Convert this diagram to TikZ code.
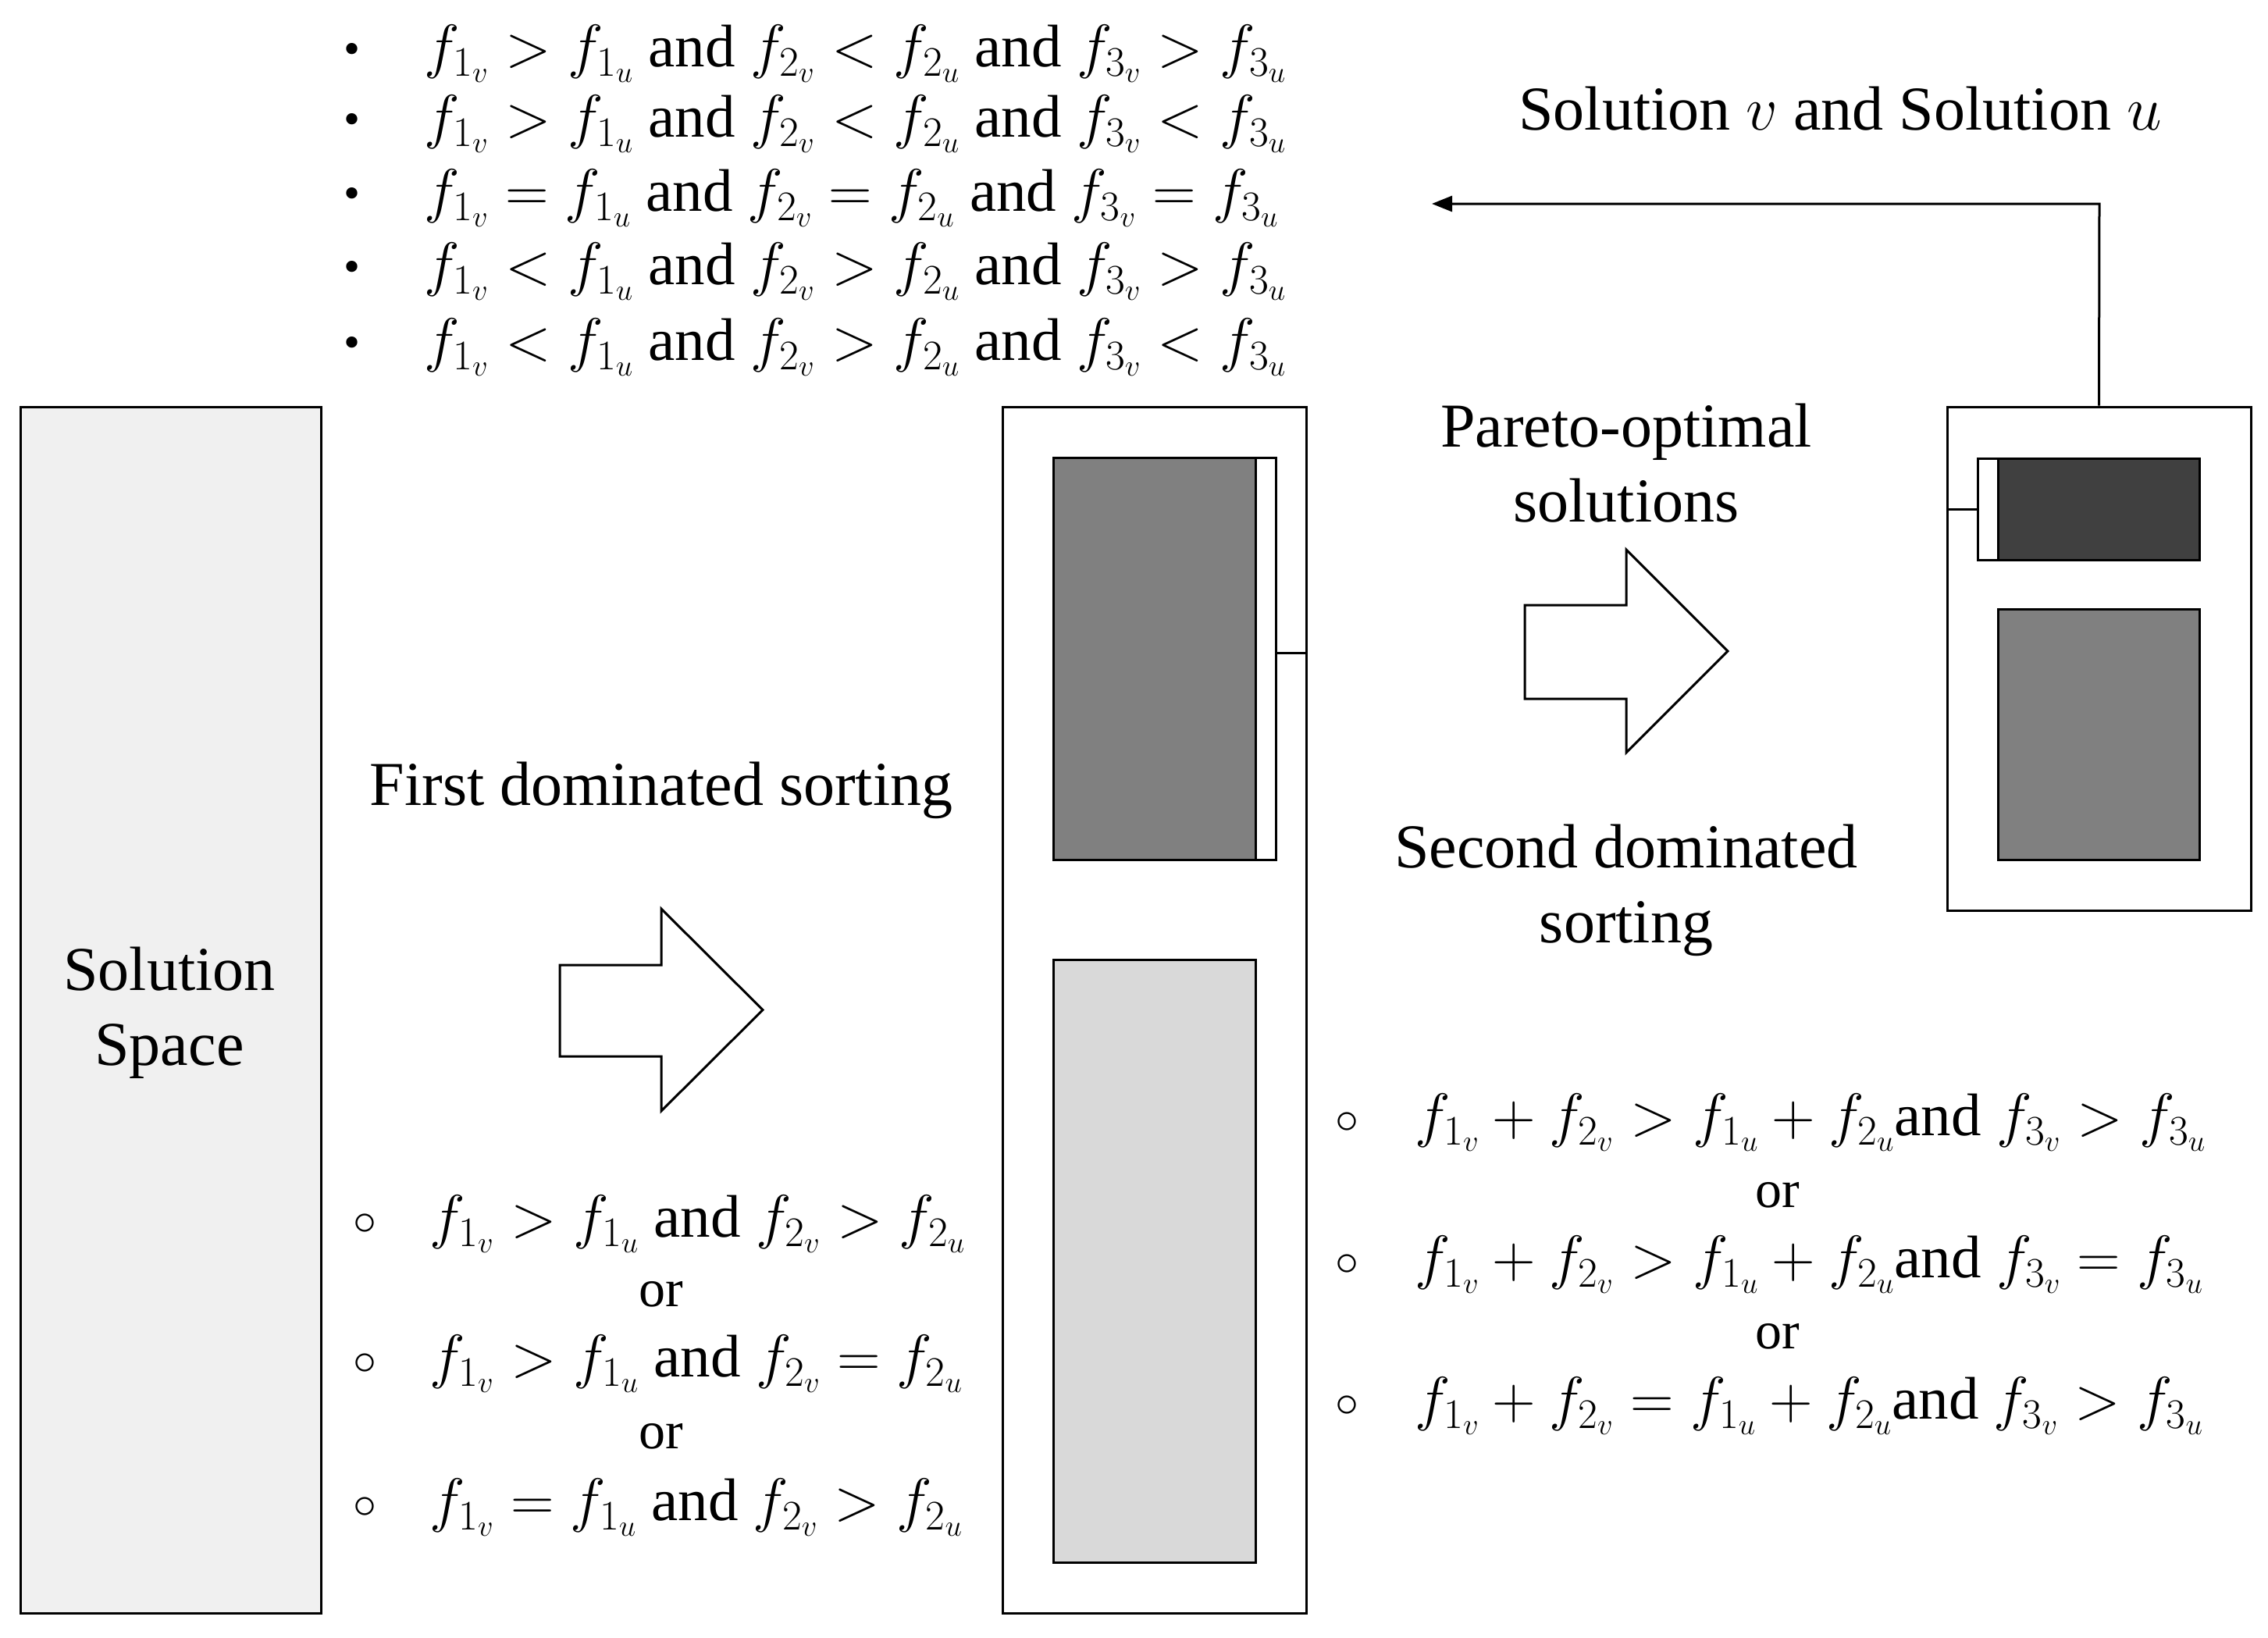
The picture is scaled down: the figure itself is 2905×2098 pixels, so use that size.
\RequirePackage{fix-cm}
\documentclass[tikz,border=0pt]{standalone}
\usepackage{fontspec}
\setmainfont{Liberation Serif}
\usetikzlibrary{arrows.meta}
\begin{document}
\begin{tikzpicture}[x=1pt,y=-1pt,
 txt/.style={font=\fontsize{80}{96}\selectfont,align=center},
 ortxt/.style={font=\fontsize{68}{80}\selectfont},
 fm/.style={font=\fontsize{77}{90}\selectfont,anchor=west,inner sep=0},
 box/.style={draw,line width=3pt},
 blk/.style={draw,line width=3pt,fill=white,line join=miter}]
\useasboundingbox (0,0) rectangle (2905,2098);
% boxes
\node[box,fill=black!6,minimum width=385,minimum height=1545,inner sep=0] (ss) at (218.5,1293.5) {};
\node[txt] (sst) at (217,1297) {Solution\\Space};
\node[box,minimum width=389,minimum height=1545,inner sep=0] (mid) at (1478.5,1293.5) {};
\node[box,fill=black!50,minimum width=259,minimum height=515,inner sep=0] (d1) at (1478.5,843.5) {};
\node[box,fill=black!15,minimum width=259,minimum height=772,inner sep=0] (l1) at (1478.5,1615) {};
\draw[line width=3pt] (1608,586) -- (1634,586) -- (1634,1101) -- (1608,1101);
\draw[line width=3pt] (1634,836) -- (mid.east|-0,836);
\node[box,minimum width=389,minimum height=645,inner sep=0] (rb) at (2688.5,843.5) {};
\node[box,fill=black!75,minimum width=258,minimum height=130,inner sep=0] (d2) at (2688,652) {};
\node[box,fill=black!50,minimum width=258,minimum height=321,inner sep=0] (g2) at (2688,940.5) {};
\draw[line width=3pt] (2559,587) -- (2533,587) -- (2533,717) -- (2559,717);
\draw[line width=3pt] (2533,652) -- (rb.west|-0,652);
\coordinate (tip) at (1834,261);
\draw[line width=3pt,-{Triangle[length=26pt,width=20pt]}] (rb.north) -- (2689,261) -- (tip);
% block arrows
\draw[blk] (717,1236) -- (847,1236) -- (847,1164) -- (977,1293.5) -- (847,1423) -- (847,1353) -- (717,1353) -- cycle;
\draw[blk] (1953,775) -- (2083,775) -- (2083,704) -- (2213,834) -- (2083,964) -- (2083,895) -- (1953,895) -- cycle;
% labels
\node[txt] (fds) at (847,1012) {First dominated sorting};
\node[txt] (po) at (2083,593) {Pareto-optimal\\solutions};
\node[txt] (sds) at (2083,1140) {Second dominated\\sorting};
\node[txt] (svu) at (2357,139) {Solution $v$ and Solution $u$};
% bullets
\foreach \y/\a/\b/\c [count=\i] in {69/>/</>,159/>/</<,254/=/=/=,348/</>/>,445/</>/<}{
 \node[fm,font=\fontsize{60}{70}\selectfont] (bd\i) at (440,\y) {\textbullet};
 \node[fm] (bf\i) at (543,\y) {$f_{1_v}\a f_{1_u}$ and $f_{2_v}\b f_{2_u}$ and $f_{3_v}\c f_{3_u}$};
}
% left conditions
\foreach \y/\a/\b [count=\i] in {1568/>/>,1747/>/=,1931/=/>}{
 \node[fm,font=\fontsize{60}{70}\selectfont] (lc\i) at (452,\y) {$\circ$};
 \node[fm] (lf\i) at (550,\y) {$f_{1_v}\a f_{1_u}$ and $f_{2_v}\b f_{2_u}$};
}
\node[ortxt] (lo1) at (847,1658) {or};
\node[ortxt] (lo2) at (847,1840) {or};
% right conditions
\foreach \y/\a/\b [count=\i] in {1438/>/>,1620/>/=,1801/=/>}{
 \node[fm,font=\fontsize{60}{70}\selectfont] (rc\i) at (1710,\y) {$\circ$};
 \node[fm] (rf\i) at (1812,\y) {$f_{1_v}+f_{2_v}\a f_{1_u}+f_{2_u}$and $f_{3_v}\b f_{3_u}$};
}
\node[ortxt] (ro1) at (2277,1531) {or};
\node[ortxt] (ro2) at (2277,1712) {or};
\end{tikzpicture}
\end{document}
